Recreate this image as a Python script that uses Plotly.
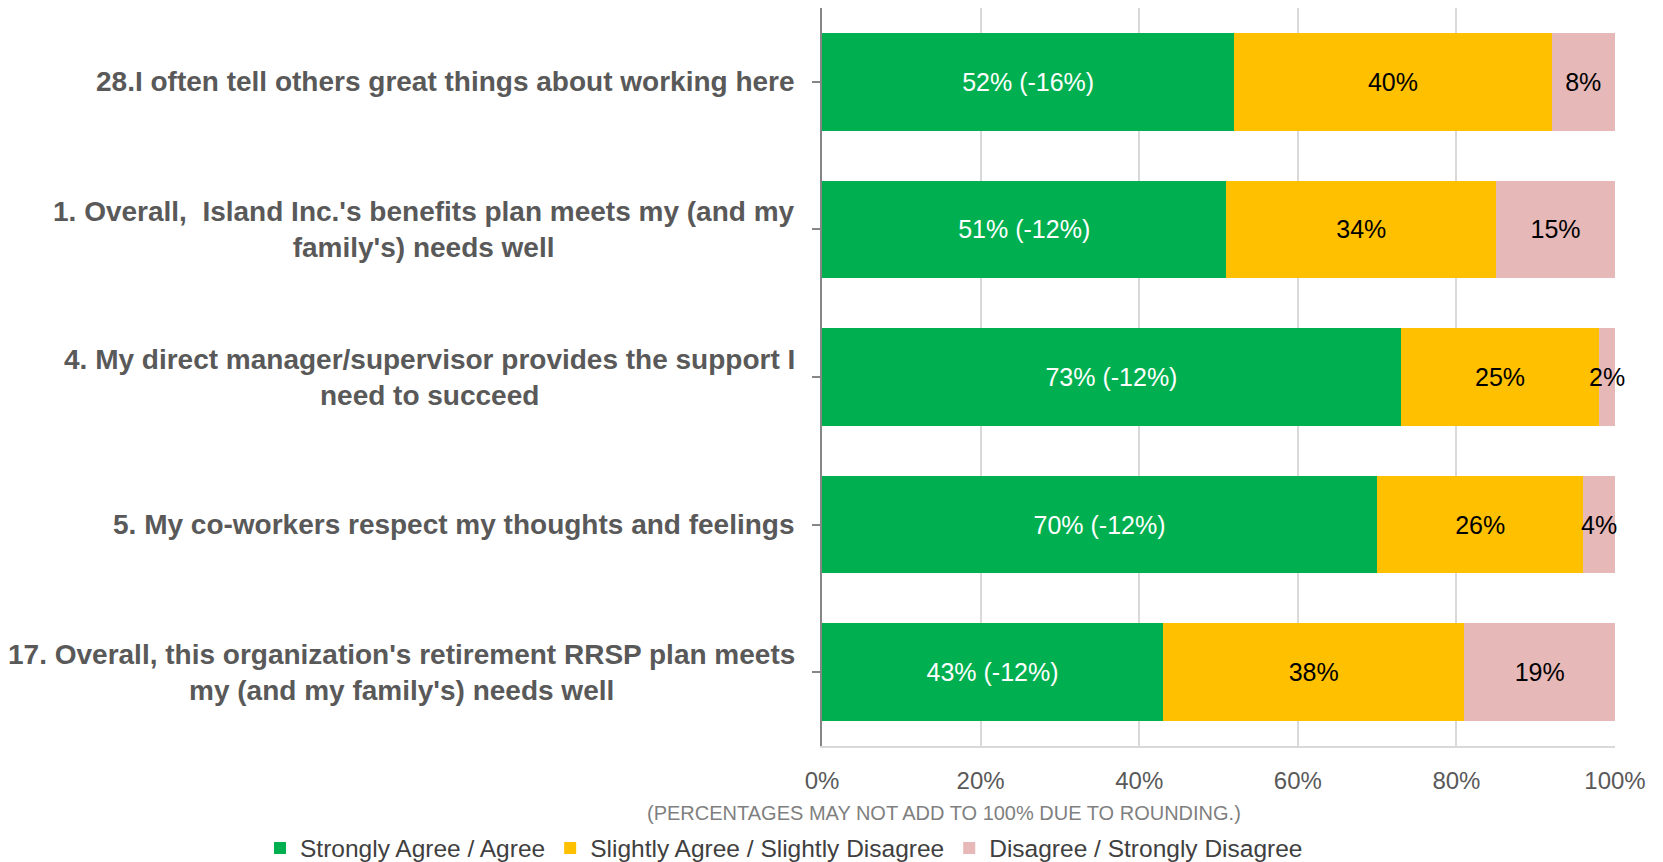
import plotly.graph_objects as go

# ---------------- data ----------------
questions = [
    "28.I often tell others great things about working here",
    "1. Overall,  Island Inc.'s benefits plan meets my (and my<br>family's) needs well",
    "4. My direct manager/supervisor provides the support I<br>need to succeed",
    "5. My co-workers respect my thoughts and feelings",
    "17. Overall, this organization's retirement RRSP plan meets<br>my (and my family's) needs well",
]
agree = [52, 51, 73, 70, 43]
agree_change = [-16, -12, -12, -12, -12]
neutral = [40, 34, 25, 26, 38]
disagree = [8, 15, 2, 4, 19]
series_names = [
    "Strongly Agree / Agree",
    "Slightly Agree / Slightly Disagree",
    "Disagree / Strongly Disagree",
]
tick_vals = [0, 20, 40, 60, 80, 100]
tick_text = ["0%", "20%", "40%", "60%", "80%", "100%"]
footnote = "(PERCENTAGES MAY NOT ADD TO 100% DUE TO ROUNDING.)"

# ---------------- style ----------------
FONT = "Liberation Sans, Arial, sans-serif"
colors = ["#00B050", "#FFC000", "#E6B8B7"]
text_colors = ["#FFFFFF", "#000000", "#000000"]

# page has an 8px body margin; figure sized to fit the 1663x862 window
W, H = 1655, 854
ML, MR, MT, MB = 814, 48, 0, 116
PW, PH = W - ML - MR, H - MT - MB
PLOT_L, PLOT_B = 822, 746  # plot-area left / bottom in page pixels

agree_text = [f"{a}% ({c}%)" for a, c in zip(agree, agree_change)]
neutral_text = [f"{v}%" for v in neutral]
disagree_text = [f"{v}%" for v in disagree]

fig = go.Figure()
for vals, txt, name, col, tcol in zip(
    [agree, neutral, disagree],
    [agree_text, neutral_text, disagree_text],
    series_names, colors, text_colors,
):
    fig.add_trace(go.Bar(
        y=questions, x=vals, name=name, orientation="h",
        marker=dict(color=col, line=dict(width=0)),
        text=txt, textposition="inside", insidetextanchor="middle",
        textangle=0, constraintext="none", cliponaxis=False,
        textfont=dict(family=FONT, size=25, color=tcol),
        hoverinfo="skip",
    ))

# category labels (centered multi-line) as annotations on the y axis
for q in questions:
    fig.add_annotation(
        x=0, xref="paper", y=q, yref="y",
        text="<b>" + q + "</b>", showarrow=False,
        xanchor="right", yanchor="middle", align="center", xshift=-25,
        font=dict(family=FONT, size=28, color="#595959"),
    )

fig.add_annotation(
    x=(944 - PLOT_L) / PW, xref="paper", y=-(813 - PLOT_B) / PH, yref="paper",
    text=footnote, showarrow=False, xanchor="center", yanchor="middle",
    font=dict(family=FONT, size=20, color="#7F7F7F"),
)

fig.update_layout(
    width=W, height=H,
    barmode="stack", bargap=0.34,
    plot_bgcolor="white", paper_bgcolor="white",
    margin=dict(l=ML, r=MR, t=MT, b=MB, autoexpand=False),
    font=dict(family=FONT, color="#595959"),
    showlegend=True,
    legend=dict(
        orientation="h", xref="paper", yref="paper",
        x=(260 - PLOT_L) / PW, xanchor="left",
        y=-(848 - PLOT_B) / PH, yanchor="middle",
        font=dict(family=FONT, size=24.5, color="#404040"),
        traceorder="normal", itemclick=False, itemdoubleclick=False,
        bgcolor="rgba(0,0,0,0)",
    ),
    xaxis=dict(
        range=[0, 100], tickvals=tick_vals, ticktext=tick_text,
        showgrid=True, gridcolor="#D9D9D9", gridwidth=1.5,
        zeroline=False, showline=True, linecolor="#D9D9D9", linewidth=1.5,
        ticks="", ticklabelstandoff=12,
        tickfont=dict(family=FONT, size=24, color="#595959"),
        fixedrange=True,
    ),
    yaxis=dict(
        categoryorder="array", categoryarray=questions, autorange="reversed",
        showticklabels=False, ticks="outside", ticklen=8, tickcolor="#868686",
        tickwidth=1.5, showline=True, linecolor="#868686", linewidth=1.5,
        showgrid=False, fixedrange=True,
    ),
)

fig.write_html("out.html")
